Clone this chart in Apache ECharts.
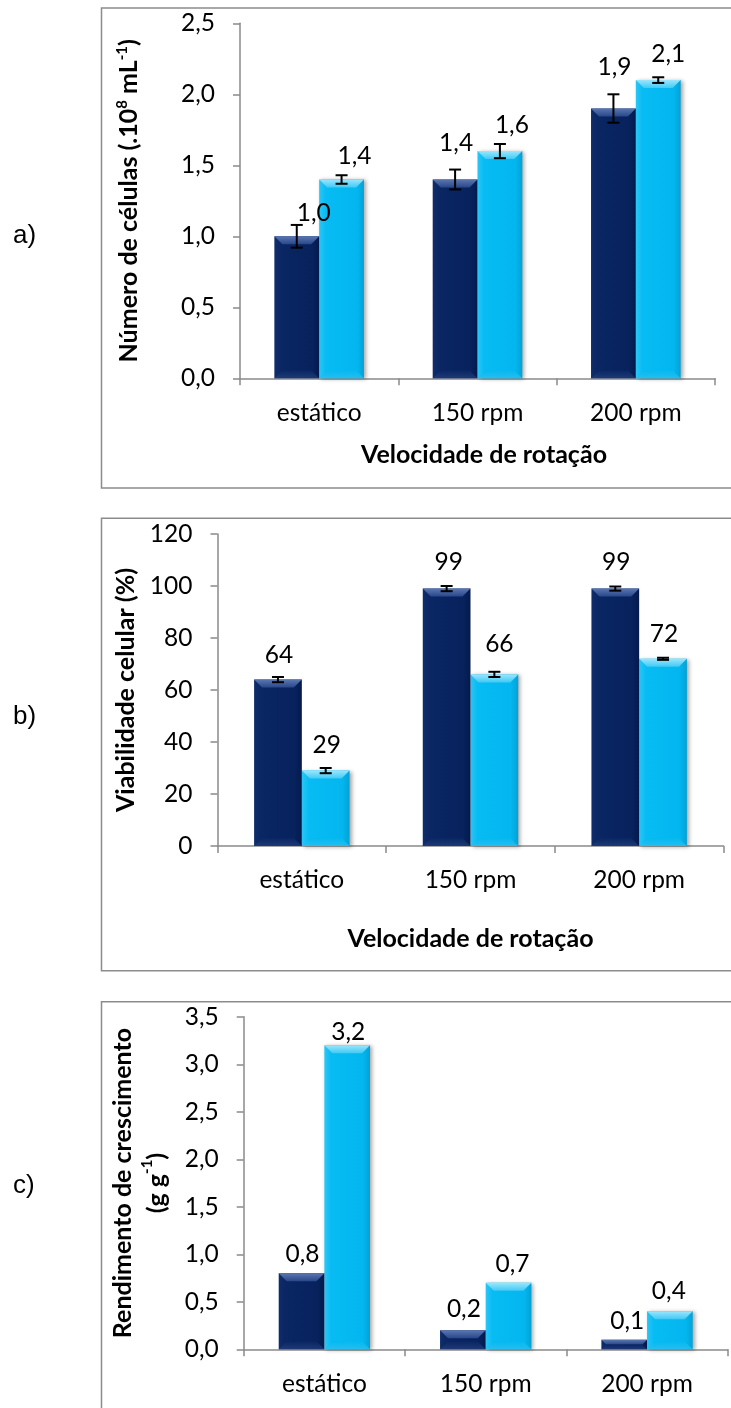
<!DOCTYPE html>
<html>
<head>
<meta charset="utf-8">
<script src="https://cdn.jsdelivr.net/npm/echarts@6/dist/echarts.min.js"></script>
<style>
  html, body { margin: 0; padding: 0; background: #ffffff; }
  #chart { width: 731px; height: 1408px; }
</style>
</head>
<body>
<div id="chart"></div>
<script>
// ---- data -------------------------------------------------------------
const categories = ['estático', '150 rpm', '200 rpm'];

// a) cell count (.10^8 mL^-1)
const cellsDark = [1.0, 1.4, 1.9];
const cellsLight = [1.4, 1.6, 2.1];
const cellsDarkErr = [0.08, 0.07, 0.10];
const cellsLightErr = [0.03, 0.05, 0.02];
const cellsAxis = [0, 2.5, 0.5];          // min, max, step

// b) cell viability (%)
const viabDark = [64, 99, 99];
const viabLight = [29, 66, 72];
const viabDarkErr = [1.0, 1.0, 0.8];
const viabLightErr = [1.0, 1.0, 0.4];
const viabAxis = [0, 120, 20];

// c) growth yield (g g^-1)
const yieldDark = [0.8, 0.2, 0.1];
const yieldLight = [3.2, 0.7, 0.4];
const yieldAxis = [0, 3.5, 0.5];

// ---- label nudges (px) ------------------------------------------------
const nudgeCellsDark = [[17, -11], [1, -24], [1, -28.5]];
const nudgeCellsLight = [[13, -10.5], [12, -14], [10, -14]];
const nudgeViabDark = [[1, -12.5], [2, -14], [1, -14]];
const nudgeViabLight = [[1, -13.5], [5, -17.5], [1, -12]];
const nudgeYieldDark = [[1, -7], [1, -9], [3, -6]];
const nudgeYieldLight = [[1, -0.5], [4, -6.5], [-1, -7.5]];

// ---- styling ----------------------------------------------------------
const FONT = 'Lato, "Open Sans", sans-serif';
const TICK_SIZE = 24.5;
const NAME_SIZE = 25;
const GAP = 0.434;
const AXIS_GRAY = '#8a8a8a';
const G = echarts.graphic.LinearGradient;

const PAL = {
  dark: {
    body: [['0', '#0f2c6c'], ['0.15', '#0a2663'], ['0.85', '#07225d'], ['1', '#041a4c']],
    top: ['#5a77b0', '#29468a'],
    bottom: ['#0a2663', '#223f7c']
  },
  light: {
    body: [['0', '#2ac6f6'], ['0.15', '#07bbf3'], ['0.85', '#03b6ef'], ['1', '#02a2d6']],
    top: ['#9ae6fc', '#3fcaf6'],
    bottom: ['#05b8f1', '#2cc0ee']
  }
};

function bodyFill(p) {
  return new G(0, 0, 1, 0, p.body.map(s => ({ offset: +s[0], color: s[1] })));
}

const comma1 = v => v.toFixed(1).replace('.', ',');
const intFmt = v => String(Math.round(v));

function barItems(vals, nudges) {
  return vals.map((v, i) => ({ value: v, label: { offset: nudges[i] } }));
}

// bevelled top and bottom faces of each bar
function bevelItem(params, api) {
  const cat = api.value(0), val = api.value(1), side = api.value(2);
  const band = api.size([1, 0])[0];
  const bw = band * (1 - GAP) / 2;
  const base = api.coord([cat, 0]);
  const top = api.coord([cat, val]);
  const cx = base[0] + side * bw / 2;
  const x0 = cx - bw / 2, x1 = cx + bw / 2;
  const yT = top[1], yB = base[1];
  const d = Math.min(8, (yB - yT) / 2);
  const p = side < 0 ? PAL.dark : PAL.light;
  return {
    type: 'group',
    children: [
      {
        type: 'polygon',
        shape: { points: [[x0, yT], [x1, yT], [x1 - d, yT + d], [x0 + d, yT + d]] },
        style: { fill: new G(0, 0, 0, 1, [{ offset: 0, color: p.top[0] }, { offset: 1, color: p.top[1] }]) }
      },
      {
        type: 'polygon',
        shape: { points: [[x0, yB], [x1, yB], [x1 - d, yB - d], [x0 + d, yB - d]] },
        style: { fill: new G(0, 0, 0, 1, [{ offset: 0, color: p.bottom[0] }, { offset: 1, color: p.bottom[1] }]), opacity: 0.8 }
      }
    ]
  };
}

// capped error bars centred on each bar
function errItem(params, api) {
  const cat = api.value(0), val = api.value(1), err = api.value(2), side = api.value(3);
  const band = api.size([1, 0])[0];
  const bw = band * (1 - GAP) / 2;
  const hi = api.coord([cat, val + err]);
  const lo = api.coord([cat, val - err]);
  const cx = hi[0] + side * bw / 2;
  const cap = 6;
  const st = { stroke: '#000', lineWidth: 2 };
  return {
    type: 'group',
    children: [
      { type: 'line', shape: { x1: cx, y1: hi[1], x2: cx, y2: lo[1] }, style: st },
      { type: 'line', shape: { x1: cx - cap, y1: hi[1], x2: cx + cap, y2: hi[1] }, style: st },
      { type: 'line', shape: { x1: cx - cap, y1: lo[1], x2: cx + cap, y2: lo[1] }, style: st }
    ]
  };
}

function panelSeries(idx, dark, light, nDark, nLight, fmt, darkErr, lightErr) {
  const label = {
    show: true, position: 'top', distance: 0,
    fontFamily: FONT, fontSize: TICK_SIZE, color: '#000',
    formatter: p => fmt(p.value)
  };
  const out = [
    {
      type: 'bar', xAxisIndex: idx, yAxisIndex: idx, z: 3,
      barGap: '0%', barCategoryGap: (GAP * 100) + '%',
      data: barItems(dark, nDark),
      itemStyle: { color: bodyFill(PAL.dark) },
      label: label
    },
    {
      type: 'bar', xAxisIndex: idx, yAxisIndex: idx, z: 2,
      barGap: '0%', barCategoryGap: (GAP * 100) + '%',
      data: barItems(light, nLight),
      itemStyle: {
        color: bodyFill(PAL.light),
        shadowColor: 'rgba(0,0,0,0.35)', shadowBlur: 4, shadowOffsetX: 2, shadowOffsetY: 1
      },
      label: label
    },
    {
      type: 'custom', xAxisIndex: idx, yAxisIndex: idx, z: 4,
      renderItem: bevelItem, encode: { x: 0, y: 1 }, silent: true,
      data: dark.map((v, i) => [i, v, -1]).concat(light.map((v, i) => [i, v, 1]))
    }
  ];
  if (darkErr) {
    out.push({
      type: 'custom', xAxisIndex: idx, yAxisIndex: idx, z: 5,
      renderItem: errItem, encode: { x: 0, y: 1 }, silent: true,
      data: dark.map((v, i) => [i, v, darkErr[i], -1]).concat(light.map((v, i) => [i, v, lightErr[i], 1]))
    });
  }
  return out;
}

function xAxis(idx, name, nameGap, shift) {
  return {
    type: 'category', gridIndex: idx, data: categories,
    axisLine: { lineStyle: { color: AXIS_GRAY, width: 1.5 } },
    axisTick: { show: true, length: 7, lineStyle: { color: AXIS_GRAY, width: 1.5 } },
    axisLabel: { fontFamily: FONT, fontSize: TICK_SIZE, color: '#000', margin: 22 },
    name: name, nameLocation: 'middle', nameGap: nameGap,
    nameTextStyle: { fontFamily: FONT, fontSize: NAME_SIZE, fontWeight: 'bold', color: '#000', lineHeight: 28, padding: [0, 0, 0, shift] }
  };
}

function yAxis(idx, range, fmt, name, nameGap, lh) {
  return {
    type: 'value', gridIndex: idx, min: range[0], max: range[1], interval: range[2],
    splitLine: { show: false },
    axisLine: { show: true, lineStyle: { color: AXIS_GRAY, width: 1.5 } },
    axisTick: { show: true, length: 7, lineStyle: { color: AXIS_GRAY, width: 1.5 } },
    axisLabel: { fontFamily: FONT, fontSize: TICK_SIZE, color: '#000', margin: 25, formatter: fmt },
    name: name, nameLocation: 'middle', nameGap: nameGap,
    nameTextStyle: {
      fontFamily: FONT, fontSize: NAME_SIZE, fontWeight: 'bold', color: '#000', lineHeight: lh,
      rich: { sup: { fontFamily: FONT, fontSize: 15, fontWeight: 'bold', color: '#000', verticalAlign: 'top', lineHeight: 15 } }
    }
  };
}

const frame = (x, y, w, h) => ({
  type: 'rect', shape: { x: x, y: y, width: w, height: h },
  style: { fill: 'none', stroke: '#8c8c8c', lineWidth: 1.5 }, silent: true
});
const tag = (t, y) => ({
  type: 'text', x: 13, y: y,
  style: { text: t, font: '26px "Liberation Sans", Arial, sans-serif', fill: '#000', textVerticalAlign: 'middle' }
});

const option = {
  animation: false,
  backgroundColor: '#ffffff',
  grid: [
    { left: 240, top: 23.3, width: 475, height: 355 },
    { left: 217.5, top: 534, width: 506, height: 312 },
    { left: 243.7, top: 1016.8, width: 484, height: 332.5 }
  ],
  xAxis: [
    xAxis(0, 'Velocidade de rotação', 63, 13),
    xAxis(1, 'Velocidade de rotação', 79, 0),
    xAxis(2, '', 0, 0)
  ],
  yAxis: [
    yAxis(0, cellsAxis, comma1, 'Número de células (.10{sup|8} mL{sup|-1})', 98, 27),
    yAxis(1, viabAxis, intFmt, 'Viabilidade celular (%)', 75, 27),
    yAxis(2, yieldAxis, comma1, 'Rendimento de crescimento\n(g g{sup|-1})', 62.5, 34)
  ],
  series: [].concat(
    panelSeries(0, cellsDark, cellsLight, nudgeCellsDark, nudgeCellsLight, comma1, cellsDarkErr, cellsLightErr),
    panelSeries(1, viabDark, viabLight, nudgeViabDark, nudgeViabLight, intFmt, viabDarkErr, viabLightErr),
    panelSeries(2, yieldDark, yieldLight, nudgeYieldDark, nudgeYieldLight, comma1, null, null)
  ),
  graphic: [
    frame(101.5, 8, 700, 480),
    frame(101.5, 518.3, 700, 452.4),
    frame(101.5, 1001.7, 700, 480),
    tag('a)', 236),
    tag('b)', 717),
    tag('c)', 1186)
  ]
};

const chart = echarts.init(document.getElementById('chart'));
chart.setOption(option);
</script>
</body>
</html>
